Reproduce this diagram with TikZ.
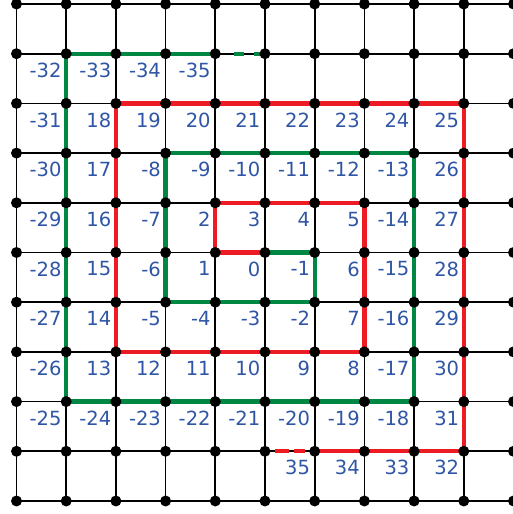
\documentclass[tikz,border=0pt]{standalone}
\usepackage{fontspec}
\setmainfont{DejaVu Sans}
\definecolor{spred}{RGB}{237,28,36}
\definecolor{spgreen}{RGB}{0,135,68}
\definecolor{lblue}{RGB}{47,85,165}
\pgfdeclarelayer{bg}
\pgfsetlayers{bg,main}
\begin{document}
\begin{tikzpicture}[x=49.7pt,y=-49.7pt,
  gridline/.style={black,line width=1.7pt},
  dot/.style={circle,fill=black,inner sep=0pt,minimum size=11pt},
  redpath/.style={spred,line width=4.3pt},
  greenpath/.style={spgreen,line width=4.3pt},
  lbl/.style={anchor=north east,inner sep=0pt,text=lblue,font=\fontsize{19.5}{20}\selectfont}]
\useasboundingbox (-0.332,-0.0805) rectangle (9.99,10.262);
\clip (-0.332,-0.0805) rectangle (9.99,10.262);
% dots (grid points)
\foreach \i in {0,...,10}{
  \foreach \j in {0,...,10}{
    \node[dot] (p\i-\j) at (\i,\j) {};
  }
}
\begin{pgfonlayer}{bg}
% grid lines
\foreach \i in {0,...,10}{
  \draw[gridline] (p\i-0.center) -- (p\i-10.center);
  \draw[gridline] (p0-\i.center) -- (p10-\i.center);
}
% positive spiral
\draw[redpath] (p5-5.center) -- (p4-5.center) -- (p4-4.center) -- (p7-4.center)
  -- (p7-7.center) -- (p2-7.center) -- (p2-2.center) -- (p9-2.center)
  -- (p9-9.center) -- (p6-9.center);
\draw[redpath,dash pattern=on 0pt off 10pt on 11pt off 5pt on 14pt off 60pt]
  (p6-9.center) -- (p5-9.center);
% negative spiral
\draw[greenpath] (p5-5.center) -- (p6-5.center) -- (p6-6.center) -- (p3-6.center)
  -- (p3-3.center) -- (p8-3.center) -- (p8-8.center) -- (p1-8.center)
  -- (p1-1.center) -- (p4-1.center);
\draw[greenpath,dash pattern=on 0pt off 19pt on 10pt off 10pt on 12pt off 60pt]
  (p4-1.center) -- (p5-1.center);
\end{pgfonlayer}
% labels: placed at the top-right corner of each cell
\foreach \v [count=\k] in {-32,-33,-34,-35}{
  \node[lbl] (l\k-1) at ([xshift=-4.5pt,yshift=-9pt]p\k-1.center) {\v};
}
\foreach \r/\lst in {
  2/{-31,18,19,20,21,22,23,24,25},
  3/{-30,17,-8,-9,-10,-11,-12,-13,26},
  4/{-29,16,-7,2,3,4,5,-14,27},
  5/{-28,15,-6,1,0,-1,6,-15,28},
  6/{-27,14,-5,-4,-3,-2,7,-16,29},
  7/{-26,13,12,11,10,9,8,-17,30},
  8/{-25,-24,-23,-22,-21,-20,-19,-18,31}}{
  \foreach \v [count=\k] in \lst{
    \node[lbl] (l\k-\r) at ([xshift=-4.5pt,yshift=-9pt]p\k-\r.center) {\v};
  }
}
\foreach \v [count=\k from 6] in {35,34,33,32}{
  \node[lbl] (l\k-9) at ([xshift=-4.5pt,yshift=-9pt]p\k-9.center) {\v};
}
\end{tikzpicture}
\end{document}
